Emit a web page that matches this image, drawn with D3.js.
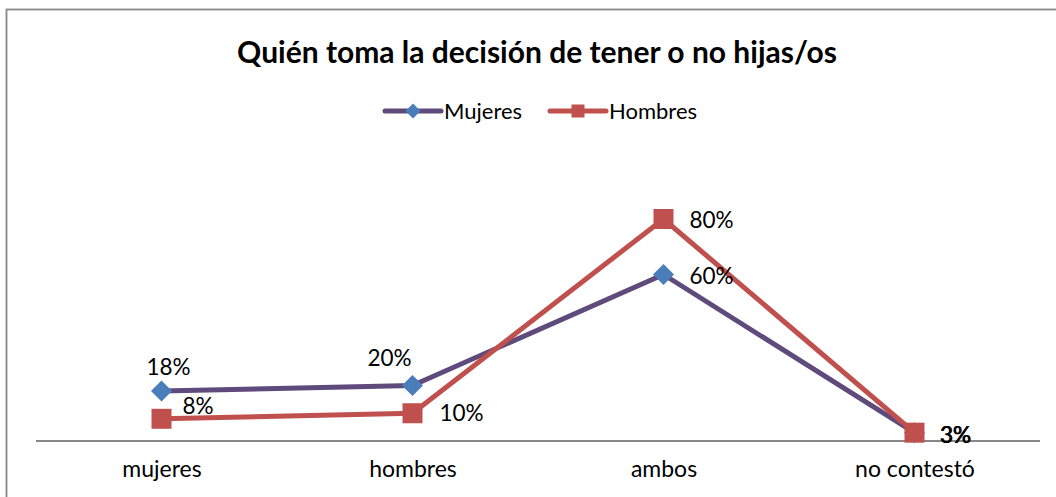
<!DOCTYPE html>
<html>
<head>
<meta charset="utf-8">
<script src="https://cdn.jsdelivr.net/npm/d3@7"></script>
<style>
  body { margin: 0; background: #fff; }
  svg { display: block; font-family: Lato, "Open Sans", sans-serif; }
</style>
</head>
<body>
<div class="container"></div>
<script>
const categories = ['mujeres', 'hombres', 'ambos', 'no contestó']
const mujeres = [18, 20, 60, 3]
const hombres = [8, 10, 80, 3]
const seriesNames = ['Mujeres', 'Hombres']

const width = 1056
const height = 497

// label offsets from the point, per series (dx, dy of text anchor)
const mujeresLabelPos = [[7, -16, 'middle'], [-23, -20, 'middle'], [26, 9, 'start'], [26, 10, 'start']]
const hombresLabelPos = [[21, -5, 'start'], [27, 8, 'start'], [26, 9, 'start'], [25, 10, 'start']]

const series = [
    { name: seriesNames[0], values: mujeres, line: '#5f4a7c', marker: '#4a7ebb', shape: 'diamond', labels: mujeresLabelPos },
    { name: seriesNames[1], values: hombres, line: '#c0504d', marker: '#c0504d', shape: 'square', labels: hombresLabelPos }
]

const svg = d3.select('.container')
    .append('svg')
    .attr('width', width)
    .attr('height', height)

// chart frame (runs off the right and bottom edges)
svg.append('rect')
    .attr('x', 6.5)
    .attr('y', 9.5)
    .attr('width', 1100)
    .attr('height', 600)
    .attr('fill', 'none')
    .attr('stroke', '#878787')
    .attr('stroke-width', 1.8)

svg.append('text')
    .attr('x', 537)
    .attr('y', 63)
    .attr('text-anchor', 'middle')
    .attr('font-size', 30)
    .attr('font-weight', 'bold')
    .text('Quién toma la decisión de tener o no hijas/os')

const xScale = d3.scalePoint()
    .domain(categories)
    .range([36, 1040])
    .padding(0.5)

const yScale = d3.scaleLinear()
    .domain([0, 100])
    .range([441, 163.5])

function drawMarker(g, shape, color, size) {
    if (shape === 'diamond') {
        const r = size / 2
        g.append('path')
            .attr('d', `M0,${-r}L${r},0L0,${r}L${-r},0Z`)
            .attr('fill', color)
    } else {
        g.append('rect')
            .attr('x', -size / 2)
            .attr('y', -size / 2)
            .attr('width', size)
            .attr('height', size)
            .attr('fill', color)
    }
}

// x axis
const xAxis = svg.append('g')
    .attr('transform', `translate(0, ${yScale(0)})`)
    .call(d3.axisBottom(xScale).tickSize(0).tickSizeOuter(0).tickPadding(20))

xAxis.select('.domain')
    .attr('stroke', '#878787')
    .attr('stroke-width', 1.8)
    .attr('d', 'M36,0H1040')

xAxis.selectAll('text')
    .attr('font-family', 'Lato, "Open Sans", sans-serif')
    .attr('font-size', 23)
    .attr('fill', '#000')

const line = d3.line()
    .x((d, i) => xScale(categories[i]))
    .y((d) => yScale(d))

series.forEach((s) => {
    svg.append('path')
        .datum(s.values)
        .attr('d', line)
        .attr('fill', 'none')
        .attr('stroke', s.line)
        .attr('stroke-width', 5)
        .attr('stroke-linejoin', 'round')

    s.values.forEach((v, i) => {
        const g = svg.append('g')
            .attr('transform', `translate(${xScale(categories[i])}, ${yScale(v)})`)
        drawMarker(g, s.shape, s.marker, s.shape === 'diamond' ? 21 : 20)
    })
})

// data labels on top
series.forEach((s) => {
    s.values.forEach((v, i) => {
        const p = s.labels[i]
        svg.append('text')
            .attr('x', xScale(categories[i]) + p[0])
            .attr('y', yScale(v) + p[1])
            .attr('text-anchor', p[2])
            .attr('font-size', 22.5)
            .attr('fill', '#000')
            .text(v + '%')
    })
})

// legend
const legend = svg.append('g')
    .attr('transform', 'translate(0, 111)')

series.forEach((s, i) => {
    const x0 = i === 0 ? 385 : 550
    const item = legend.append('g')
    item.append('line')
        .attr('x1', x0)
        .attr('x2', x0 + 56)
        .attr('stroke', s.line)
        .attr('stroke-width', 5)
        .attr('stroke-linecap', 'round')
    const m = item.append('g').attr('transform', `translate(${x0 + 28}, 0)`)
    drawMarker(m, s.shape, s.marker, s.shape === 'diamond' ? 15 : 13)
    item.append('text')
        .attr('x', x0 + 59)
        .attr('y', 8)
        .attr('font-size', 22)
        .attr('fill', '#000')
        .text(s.name)
})
</script>
</body>
</html>
